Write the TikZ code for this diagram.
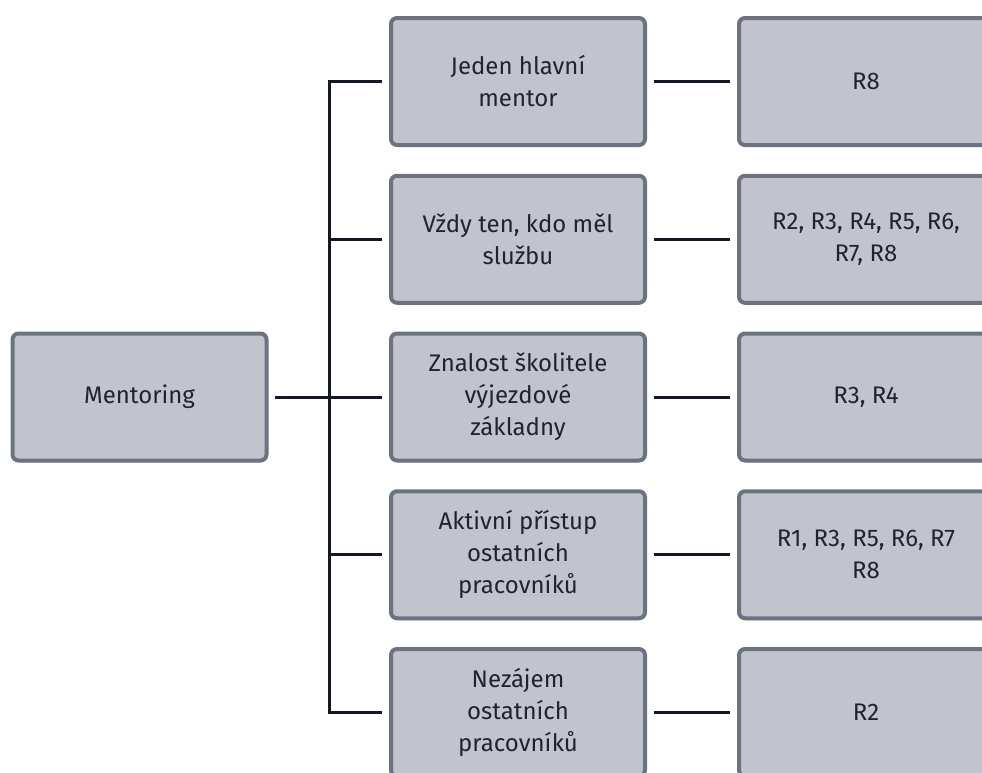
\documentclass[tikz,border=0pt]{standalone}
\usepackage{fontspec}
\setmainfont{Fira Sans}
\usetikzlibrary{shadows}
\definecolor{boxfill}{HTML}{C1C4CC}
\definecolor{boxline}{HTML}{6B7280}
\definecolor{wire}{HTML}{111827}
\definecolor{ink}{HTML}{1F2430}

\begin{document}
\begin{tikzpicture}[x=0.75pt,y=-0.75pt,
    box/.style={draw=boxline, fill=boxfill, line width=3pt, rounded corners=4.5pt,
      minimum width=190.5pt, minimum height=95.25pt, align=center, text=ink,
      font=\fontsize{18}{24}\selectfont,
      drop shadow={shadow xshift=0pt, shadow yshift=-1.5pt, opacity=0.12, fill=black}},
    link/.style={draw=wire, line width=2.25pt, shorten <=5pt, shorten >=5pt},
    branch/.style={draw=wire, line width=2.25pt, shorten >=5pt}]
  \useasboundingbox (0,0) rectangle (982,772);
  \clip (0,0) rectangle (982,772);

  \node[box] (ment) at (139.5,397) {Mentoring};

  \node[box] (m1) at (518,81.5) {Jeden hlavní\\mentor};
  \node[box] (m2) at (518,239.25) {Vždy ten, kdo měl\\službu};
  \node[box] (m3) at (518,397) {Znalost školitele\\výjezdové\\základny};
  \node[box] (m4) at (518,554.75) {Aktivní přístup\\ostatních\\pracovníků};
  \node[box] (m5) at (518,712.5) {Nezájem\\ostatních\\pracovníků};

  \node[box] (r1) at (866,81.5) {R8};
  \node[box] (r2) at (866,239.25) {R2, R3, R4, R5, R6,\\R7, R8};
  \node[box] (r3) at (866,397) {R3, R4};
  \node[box] (r4) at (866,554.75) {R1, R3, R5, R6, R7\\R8};
  \node[box] (r5) at (866,712.5) {R2};

  \coordinate (fork) at (329,397);

  \draw[link] (ment) -- (m3);
  \foreach \i in {1,2,4,5}
    \draw[branch] (fork) |- (m\i.west);
  \foreach \i in {1,...,5}
    \draw[link] (m\i) -- (r\i);
\end{tikzpicture}
\end{document}
